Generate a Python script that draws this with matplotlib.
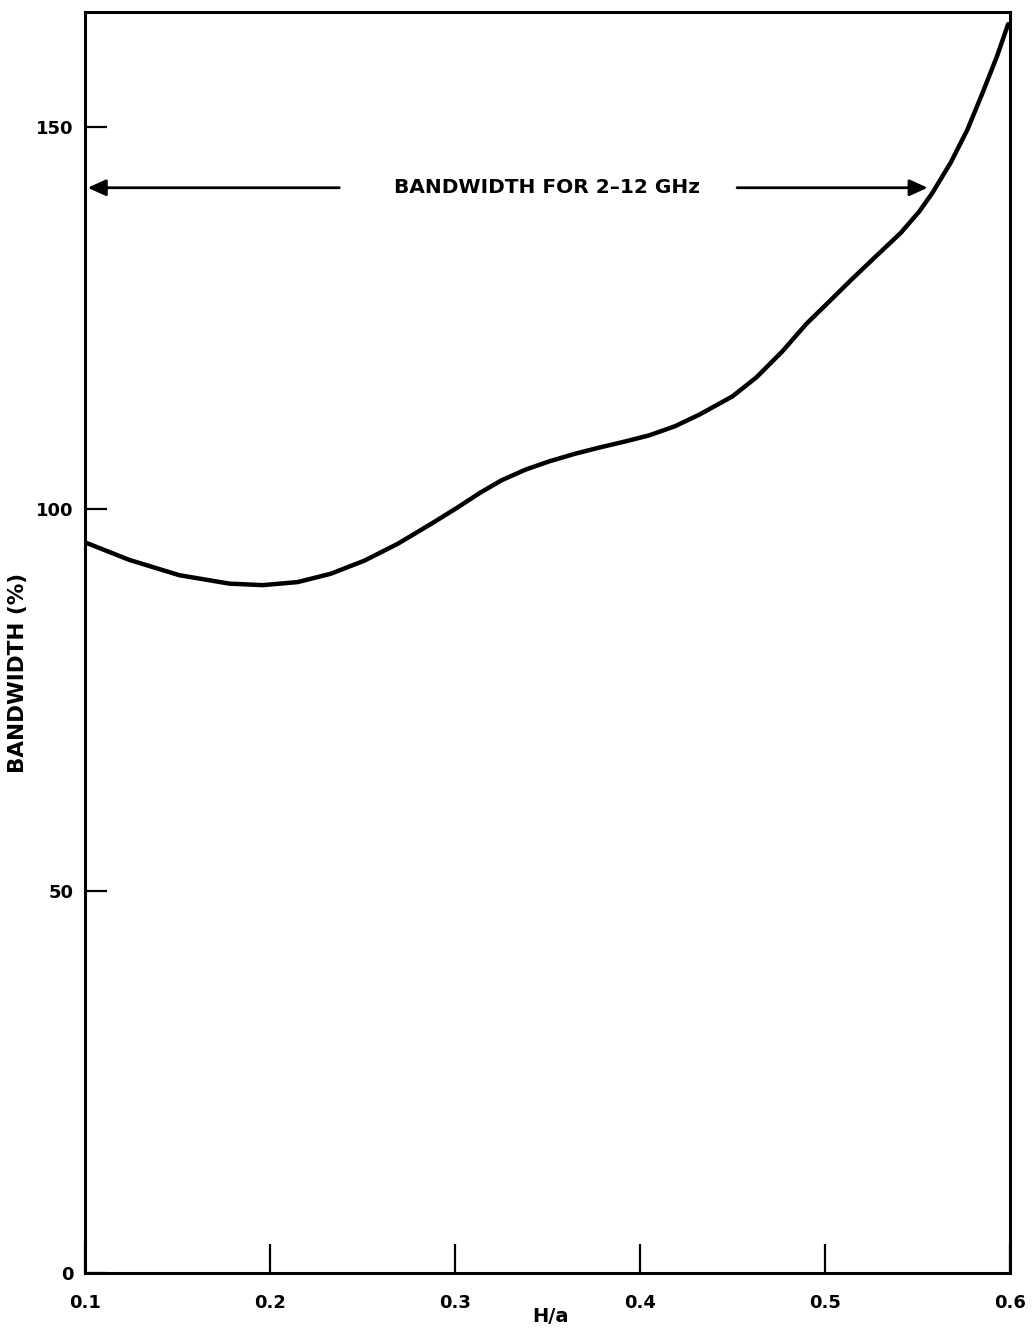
import matplotlib.pyplot as plt

plt.rcParams['font.family'] = ['DejaVu Sans']
plt.rcParams['font.weight'] = 'bold'

# H/a ratio and bandwidth (%)
h_over_a = [0.100, 0.124, 0.151, 0.178, 0.196, 0.215, 0.233, 0.251, 0.269, 0.287,
            0.301, 0.313, 0.325, 0.338, 0.351, 0.365, 0.378, 0.392, 0.405, 0.419,
            0.432, 0.450, 0.463, 0.477, 0.490, 0.501, 0.514, 0.527, 0.541, 0.551,
            0.558, 0.568, 0.577, 0.585, 0.593, 0.599]
bandwidth = [95.6, 93.3, 91.3, 90.2, 90.0, 90.4, 91.5, 93.2, 95.4, 98.0,
             100.1, 102.0, 103.7, 105.1, 106.2, 107.2, 108.0, 108.8, 109.6, 110.8,
             112.3, 114.7, 117.2, 120.6, 124.2, 126.8, 129.9, 132.9, 136.1, 138.9,
             141.3, 145.3, 149.6, 154.3, 159.2, 163.4]

x_ticks = [0.1, 0.2, 0.3, 0.4, 0.5, 0.6]
y_ticks = [0, 50, 100, 150]
band_level = 142.0

fig = plt.figure(figsize=(10.35, 13.3), dpi=100)
ax = fig.add_axes([0.0821, 0.0429, 0.8937, 0.9481])

ax.plot(h_over_a, bandwidth, color='black', lw=3.2, solid_capstyle='round',
        solid_joinstyle='round')

ax.set_xlim(0.1, 0.6)
ax.set_ylim(0, 165)
ax.set_xticks(x_ticks)
ax.set_xticklabels([f'{t:.1f}' for t in x_ticks])
ax.set_yticks(y_ticks)
ax.tick_params(axis='x', direction='in', length=21, width=1.6, pad=15, labelsize=13)
ax.tick_params(axis='y', direction='in', length=16, width=1.6, pad=8, labelsize=13)
for lab in ax.get_xticklabels() + ax.get_yticklabels():
    lab.set_fontweight('bold')
for s in ax.spines.values():
    s.set_linewidth(2.2)

# arrows spanning the 2-12 GHz band
arrow = dict(arrowstyle='-|>,head_length=1.1,head_width=0.5', color='black', lw=2.0)
ax.annotate('', xy=(0.1, band_level), xytext=(0.239, band_level), arrowprops=arrow)
ax.annotate('', xy=(0.557, band_level), xytext=(0.451, band_level), arrowprops=arrow)
ax.text(0.350, band_level, 'BANDWIDTH FOR 2\u201312 GHz', ha='center', va='center',
        fontsize=14.5, fontweight='bold')

fig.text(18 / 1035, 1 - 673 / 1330, 'BANDWIDTH (%)', rotation=90, ha='center', va='center',
         fontsize=15.5, fontweight='bold')
fig.text(550 / 1035, 1 - 1316 / 1330, 'H/a', ha='center', va='center',
         fontsize=14, fontweight='bold')

fig.savefig('out.png', dpi=100)
